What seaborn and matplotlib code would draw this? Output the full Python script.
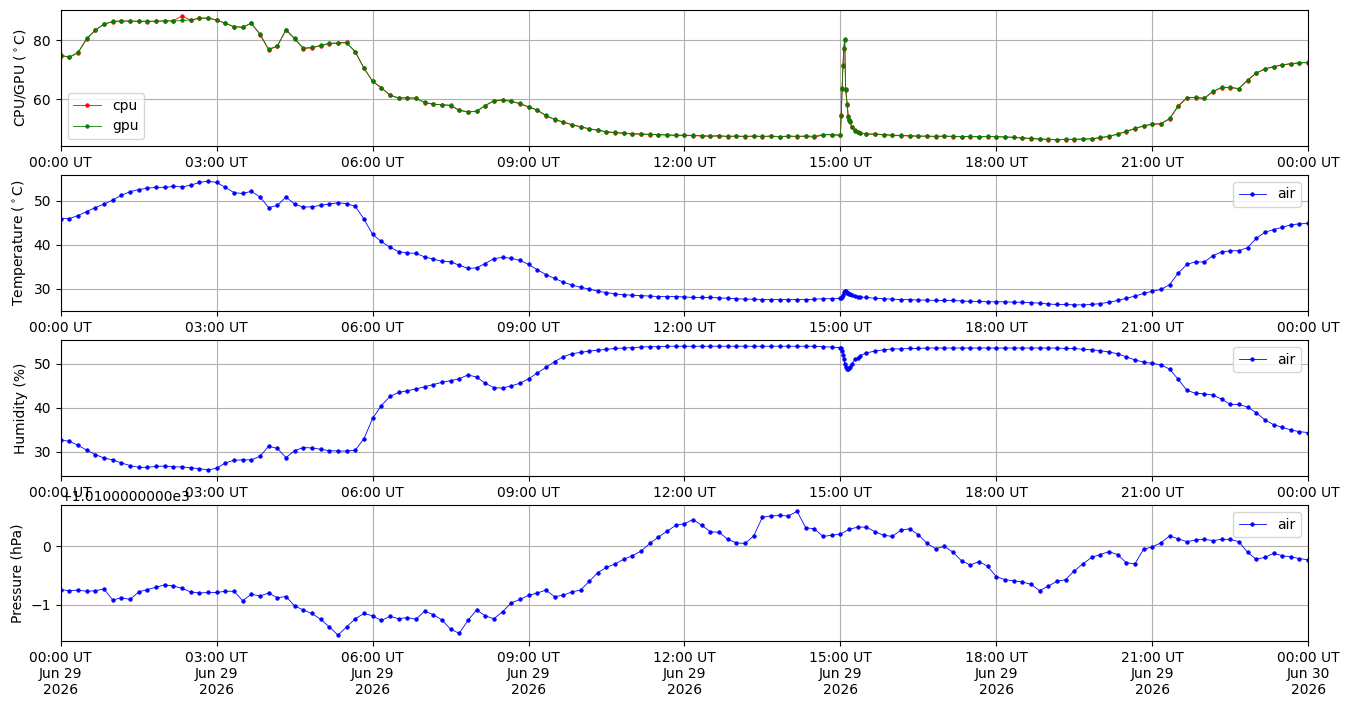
import numpy as np
import pandas as pd
import seaborn as sns
import matplotlib
matplotlib.use("Agg")
import matplotlib.pyplot as plt
import matplotlib.dates as mdates
import matplotlib.ticker as ticker

# sampled every 10 minutes, 00:00 UT Jun 29 -> 00:00 UT Jun 30
start = pd.Timestamp("2026-06-29 00:00")
minutes = np.arange(0, 1441, 10)

cpu = [74.8, 74.2, 75.8, 80.5, 83.6, 85.5,
       86.4, 86.7, 86.5, 86.6, 86.4, 86.6,
       86.6, 86.7, 88.3, 86.9, 87.6, 87.7,
       87.0, 85.8, 84.6, 84.6, 85.8, 82.0,
       76.8, 78.0, 83.5, 80.5, 77.2, 77.5,
       78.2, 78.9, 79.2, 79.3, 76.0, 70.5,
       66.0, 63.8, 61.3, 60.3, 60.5, 60.2,
       58.8, 58.2, 58.1, 57.8, 56.1, 55.6,
       55.8, 57.7, 59.4, 59.7, 59.2, 58.4,
       57.3, 56.2, 54.3, 53.0, 52.1, 51.2,
       50.5, 49.8, 49.3, 48.8, 48.5, 48.3,
       48.1, 48.0, 47.9, 47.8, 47.7, 47.6,
       47.6, 47.5, 47.4, 47.3, 47.4, 47.2,
       47.3, 47.2, 47.3, 47.2, 47.3, 47.1,
       47.3, 47.2, 47.3, 46.9, 47.8, 47.8,
       47.6, 52.8, 48.7, 48.0, 48.0, 47.8,
       47.6, 47.5, 47.4, 47.3, 47.3, 47.2,
       47.3, 47.2, 47.1, 47.2, 47.0, 47.2,
       47.1, 47.0, 46.9, 46.7, 46.5, 46.3,
       46.2, 46.1, 46.2, 46.2, 46.3, 46.4,
       46.8, 47.2, 48.0, 48.9, 49.9, 50.8,
       51.4, 51.5, 53.2, 57.5, 60.4, 60.5,
       60.2, 62.5, 63.9, 63.9, 63.5, 66.3,
       68.8, 70.2, 71.0, 71.6, 72.0, 72.3,
       72.4]

gpu = [74.9, 74.4, 75.9, 80.7, 83.5, 85.6,
       86.5, 86.6, 86.6, 86.5, 86.6, 86.5,
       86.7, 86.6, 86.8, 87.0, 87.5, 87.6,
       86.9, 85.9, 84.7, 84.5, 85.9, 82.2,
       77.0, 78.1, 83.7, 80.7, 77.4, 77.6,
       78.3, 79.0, 79.1, 79.2, 76.2, 70.6,
       66.1, 63.9, 61.4, 60.4, 60.4, 60.3,
       58.9, 58.3, 58.0, 57.9, 56.2, 55.7,
       55.9, 57.8, 59.5, 59.6, 59.3, 58.5,
       57.4, 56.3, 54.4, 53.1, 52.2, 51.3,
       50.6, 49.9, 49.4, 48.9, 48.6, 48.4,
       48.2, 48.1, 48.0, 47.9, 47.8, 47.7,
       47.7, 47.6, 47.5, 47.4, 47.5, 47.3,
       47.4, 47.3, 47.4, 47.3, 47.4, 47.2,
       47.4, 47.3, 47.4, 47.3, 47.9, 47.9,
       47.7, 53.0, 48.8, 48.1, 48.1, 47.9,
       47.7, 47.6, 47.5, 47.4, 47.4, 47.3,
       47.4, 47.3, 47.2, 47.3, 47.2, 47.3,
       47.2, 47.1, 47.0, 46.8, 46.6, 46.4,
       46.3, 46.2, 46.3, 46.3, 46.4, 46.5,
       46.9, 47.3, 48.1, 49.0, 50.0, 50.9,
       51.5, 51.6, 53.4, 57.7, 60.5, 60.6,
       60.3, 62.6, 64.0, 64.0, 63.6, 66.5,
       68.9, 70.3, 71.1, 71.7, 72.1, 72.4,
       72.5]

temperature = [45.9, 45.9, 46.6, 47.5, 48.4, 49.2,
               50.1, 51.2, 52.0, 52.5, 52.8, 53.0,
               53.0, 53.2, 53.1, 53.5, 54.1, 54.4,
               54.1, 53.0, 51.8, 51.6, 52.1, 50.8,
               48.4, 48.9, 50.8, 49.2, 48.5, 48.6,
               48.9, 49.2, 49.5, 49.3, 48.7, 45.8,
               42.3, 40.7, 39.4, 38.4, 38.1, 38.0,
               37.2, 36.7, 36.2, 36.1, 35.3, 34.6,
               34.7, 35.7, 36.8, 37.1, 36.9, 36.4,
               35.5, 34.3, 33.2, 32.3, 31.5, 30.8,
               30.3, 29.9, 29.4, 29.1, 28.8, 28.6,
               28.5, 28.4, 28.3, 28.2, 28.2, 28.2,
               28.1, 28.0, 28.0, 28.0, 27.9, 27.8,
               27.7, 27.6, 27.6, 27.5, 27.5, 27.5,
               27.5, 27.5, 27.5, 27.6, 27.7, 27.7,
               27.8, 28.7, 28.2, 28.0, 27.8, 27.7,
               27.6, 27.5, 27.5, 27.4, 27.4, 27.3,
               27.3, 27.3, 27.2, 27.1, 27.1, 27.0,
               27.0, 27.0, 26.9, 26.9, 26.8, 26.7,
               26.5, 26.4, 26.4, 26.3, 26.3, 26.4,
               26.6, 26.9, 27.3, 27.8, 28.3, 28.9,
               29.4, 29.8, 30.9, 33.5, 35.5, 36.1,
               36.0, 37.5, 38.3, 38.6, 38.6, 39.3,
               41.4, 42.8, 43.4, 43.9, 44.5, 44.7,
               44.8]

humidity = [32.7, 32.4, 31.5, 30.4, 29.4, 28.6,
            28.2, 27.5, 26.9, 26.5, 26.5, 26.7,
            26.8, 26.6, 26.6, 26.4, 26.2, 25.9,
            26.3, 27.5, 28.1, 28.2, 28.2, 29.0,
            31.3, 30.8, 28.7, 30.3, 31.0, 30.9,
            30.6, 30.3, 30.2, 30.2, 30.4, 33.0,
            37.6, 40.5, 42.6, 43.5, 43.9, 44.3,
            44.8, 45.3, 45.8, 46.2, 46.6, 47.5,
            47.0, 45.6, 44.6, 44.5, 45.0, 45.6,
            46.6, 47.9, 49.2, 50.5, 51.6, 52.3,
            52.6, 52.9, 53.1, 53.3, 53.5, 53.6,
            53.7, 53.8, 53.9, 53.9, 54.0, 54.0,
            54.0, 54.0, 54.0, 54.0, 54.0, 54.0,
            54.0, 54.0, 54.0, 54.0, 54.0, 54.0,
            54.0, 54.0, 54.0, 54.0, 53.9, 53.8,
            53.7, 49.1, 51.3, 52.5, 52.9, 53.2,
            53.4, 53.4, 53.5, 53.5, 53.6, 53.6,
            53.6, 53.6, 53.6, 53.6, 53.6, 53.6,
            53.6, 53.6, 53.6, 53.6, 53.6, 53.6,
            53.6, 53.6, 53.5, 53.5, 53.3, 53.2,
            53.0, 52.7, 52.3, 51.6, 50.9, 50.4,
            50.1, 49.8, 48.8, 46.5, 44.0, 43.3,
            43.2, 42.9, 42.0, 40.8, 40.8, 40.2,
            38.9, 37.3, 36.2, 35.6, 35.0, 34.6,
            34.4]

pressure = [1009.26, 1009.24, 1009.25, 1009.23, 1009.24, 1009.27,
            1009.08, 1009.12, 1009.09, 1009.22, 1009.26, 1009.30,
            1009.34, 1009.32, 1009.28, 1009.22, 1009.20, 1009.21,
            1009.21, 1009.23, 1009.23, 1009.07, 1009.18, 1009.15,
            1009.20, 1009.12, 1009.14, 1008.98, 1008.91, 1008.85,
            1008.75, 1008.62, 1008.48, 1008.62, 1008.76, 1008.85,
            1008.81, 1008.73, 1008.80, 1008.76, 1008.78, 1008.75,
            1008.89, 1008.83, 1008.74, 1008.58, 1008.51, 1008.73,
            1008.91, 1008.81, 1008.76, 1008.88, 1009.03, 1009.09,
            1009.16, 1009.20, 1009.25, 1009.14, 1009.16, 1009.22,
            1009.25, 1009.40, 1009.55, 1009.64, 1009.70, 1009.78,
            1009.84, 1009.92, 1010.05, 1010.16, 1010.26, 1010.36,
            1010.39, 1010.46, 1010.36, 1010.25, 1010.24, 1010.12,
            1010.06, 1010.05, 1010.18, 1010.50, 1010.52, 1010.53,
            1010.52, 1010.60, 1010.32, 1010.30, 1010.17, 1010.19,
            1010.21, 1010.29, 1010.33, 1010.33, 1010.25, 1010.19,
            1010.17, 1010.28, 1010.30, 1010.20, 1010.05, 1009.96,
            1010.00, 1009.90, 1009.75, 1009.68, 1009.74, 1009.66,
            1009.48, 1009.43, 1009.41, 1009.39, 1009.35, 1009.24,
            1009.32, 1009.40, 1009.43, 1009.58, 1009.70, 1009.81,
            1009.86, 1009.91, 1009.86, 1009.72, 1009.70, 1009.95,
            1009.99, 1010.06, 1010.18, 1010.13, 1010.08, 1010.11,
            1010.12, 1010.10, 1010.12, 1010.12, 1010.08, 1009.90,
            1009.78, 1009.81, 1009.88, 1009.84, 1009.82, 1009.79,
            1009.77]

# extra samples around the 15:00 load spike
spike_minutes = [901, 902, 903, 904, 905, 906, 908, 909, 911, 913, 917, 923]
spike_cpu = [54.6, 63.8, 71.6, 77.2, 80.3, 63.0, 58.3, 54.1, 52.1, 50.6, 49.4, 48.5]
spike_gpu = [54.1, 63.3, 71.3, 77.5, 80.6, 63.3, 57.9, 53.9, 52.4, 50.3, 49.2, 48.4]
spike_temp = [27.8, 28.0, 28.6, 29.2, 29.5, 29.4, 29.1, 28.9, 28.7, 28.5, 28.3, 28.1]
spike_hum = [53.6, 53.0, 52.0, 51.0, 50.0, 49.3, 48.9, 48.9, 49.3, 50.0, 51.0, 51.9]

PRESSURE_OFFSET = 1010


def with_spike(values, spike_values):
    t = np.concatenate([minutes, spike_minutes])
    v = np.concatenate([values, spike_values])
    order = np.argsort(t)
    return start + pd.to_timedelta(t[order], unit="min"), v[order]


class OffsetFormatter(ticker.ScalarFormatter):
    def get_offset(self):
        return "+1.0100000000e3"


fig, axes = plt.subplots(4, 1, figsize=(13.5, 7.07), dpi=100)
fig.subplots_adjust(left=0.045, right=0.969, top=0.986, bottom=0.093, hspace=0.213)

line_kw = dict(lw=0.6, marker=".", ms=5, mew=0.6)

t, v = with_spike(cpu, spike_cpu)
sns.lineplot(x=t, y=v, ax=axes[0], color="r", mec="r", label="cpu", **line_kw)
t, v = with_spike(gpu, spike_gpu)
sns.lineplot(x=t, y=v, ax=axes[0], color="g", mec="g", label="gpu", **line_kw)
axes[0].set_ylabel("CPU/GPU ($^\\circ$C)")
axes[0].legend(loc="lower left")

t, v = with_spike(temperature, spike_temp)
sns.lineplot(x=t, y=v, ax=axes[1], color="b", mec="b", label="air", **line_kw)
axes[1].set_ylabel("Temperature ($^\\circ$C)")

t, v = with_spike(humidity, spike_hum)
sns.lineplot(x=t, y=v, ax=axes[2], color="b", mec="b", label="air", **line_kw)
axes[2].set_ylabel("Humidity (%)")

times = start + pd.to_timedelta(minutes, unit="min")
sns.lineplot(x=times, y=np.array(pressure), ax=axes[3], color="b", mec="b", label="air", **line_kw)
axes[3].set_ylabel("Pressure (hPa)")
axes[3].yaxis.set_major_formatter(OffsetFormatter(useOffset=PRESSURE_OFFSET))

for ax in axes[1:]:
    ax.legend(loc="upper right")

for i, ax in enumerate(axes):
    ax.set_xlim(start, start + pd.Timedelta(days=1))
    ax.xaxis.set_major_locator(mdates.HourLocator(byhour=range(0, 24, 3)))
    fmt = "%H:%M UT\n%b %d\n%Y" if i == 3 else "%H:%M UT"
    ax.xaxis.set_major_formatter(mdates.DateFormatter(fmt))
    ax.set_xlabel("")
    ax.grid(True)

fig.savefig("out.png")
